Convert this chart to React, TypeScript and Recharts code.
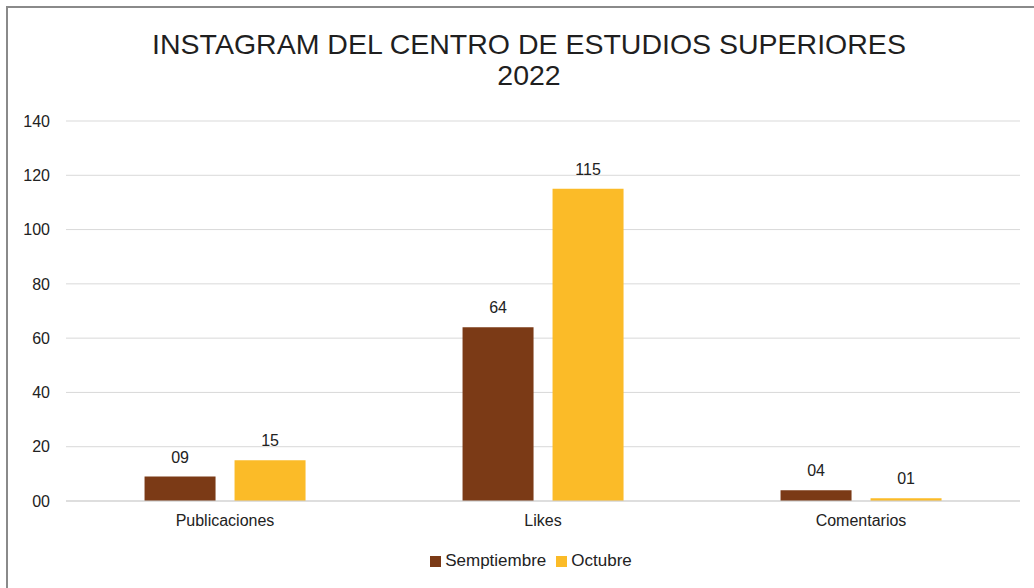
import { BarChart, Bar, XAxis, YAxis, CartesianGrid, Legend, LabelList } from 'recharts';

// categories and series values
const categories = ['Publicaciones', 'Likes', 'Comentarios'];
const septiembre = [9, 64, 4];
const octubre = [15, 115, 1];
const yTicks = [0, 20, 40, 60, 80, 100, 120, 140];
const seriesOrder = ['septiembre', 'octubre'];

const data = categories.map((name, i) => ({
  name,
  septiembre: septiembre[i],
  octubre: octubre[i],
}));

const pad2 = (v: any) => String(v).padStart(2, '0');

const FONT = 'Liberation Sans, Arial, sans-serif';

export default function App() {
  return (
    <div style={{ position: 'absolute', left: 0, top: 0, width: 1034, height: 588, background: '#fff', fontFamily: FONT }}>
      {/* frame: only left and top edges are visible in the source */}
      <div
        style={{
          position: 'absolute',
          left: 6,
          top: 6,
          right: 0,
          bottom: 0,
          borderLeft: '2px solid #8a8a8a',
          borderTop: '2px solid #8a8a8a',
        }}
      />
      <div
        style={{
          position: 'absolute',
          left: 0,
          width: 1058,
          top: 29,
          textAlign: 'center',
          fontSize: 28.5,
          lineHeight: '31px',
          color: '#1f1f1f',
        }}
      >
        INSTAGRAM DEL CENTRO DE ESTUDIOS SUPERIORES
        <br />
        2022
      </div>
      <div style={{ position: 'absolute', left: 0, top: 0 }}>
        <BarChart
          width={1034}
          height={588}
          data={data}
          margin={{ top: 121, right: 14, left: 0, bottom: 17 }}
          barGap={19}
          barCategoryGap="24.7%"
        >
          <CartesianGrid vertical={false} stroke="#d9d9d9" />
          <XAxis
            dataKey="name"
            axisLine={{ stroke: '#d0d0d0' }}
            tickLine={false}
            tick={{ fontSize: 16, fill: '#222', fontFamily: FONT }}
            tickMargin={8}
            height={50}
          />
          <YAxis
            width={66}
            domain={[0, 140]}
            ticks={yTicks}
            interval={0}
            axisLine={false}
            tickLine={false}
            tickSize={6}
            tickMargin={10}
            tickFormatter={pad2}
            tick={{ fontSize: 16, fill: '#222', fontFamily: FONT }}
          />
          <Legend
            verticalAlign="bottom"
            iconType="square"
            iconSize={11}
            itemSorter={(item: any) => seriesOrder.indexOf(item.dataKey)}
            wrapperStyle={{ fontSize: 17, fontFamily: FONT, paddingLeft: 26 }}
            formatter={(value: string) => <span style={{ color: '#222' }}>{value}</span>}
          />
          <Bar dataKey="septiembre" name="Semptiembre" fill="#7b3a16" isAnimationActive={false}>
            <LabelList dataKey="septiembre" position="top" offset={14} formatter={pad2} style={{ fontSize: 16, fill: '#222', fontFamily: FONT }} />
          </Bar>
          <Bar dataKey="octubre" name="Octubre" fill="#fbbb28" isAnimationActive={false}>
            <LabelList dataKey="octubre" position="top" offset={14} formatter={pad2} style={{ fontSize: 16, fill: '#222', fontFamily: FONT }} />
          </Bar>
        </BarChart>
      </div>
    </div>
  );
}
